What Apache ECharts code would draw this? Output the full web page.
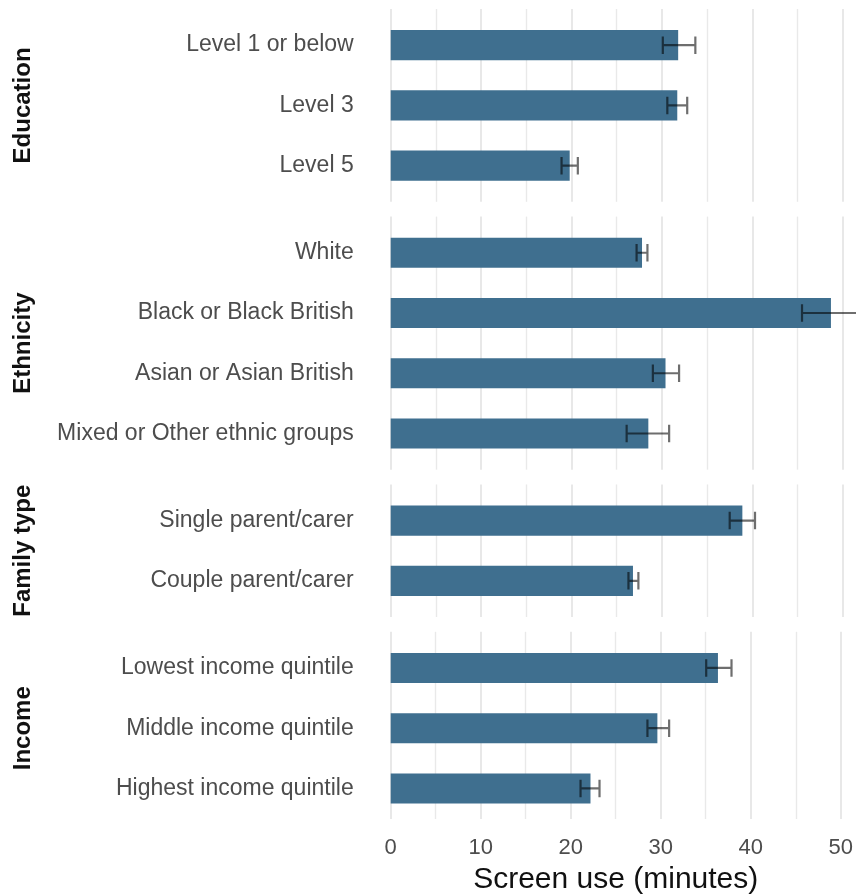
<!DOCTYPE html>
<html><head><meta charset="utf-8">
<script src="https://cdn.jsdelivr.net/npm/echarts@6/dist/echarts.min.js"></script>
<style>html,body{margin:0;padding:0;background:#fff}#c{width:856px;height:896px}</style>
</head><body><div id="c"></div>
<script>
// ---- data ----
const facetNames = ['Education', 'Ethnicity', 'Family type', 'Income'];
const eduCats = ['Level 1 or below', 'Level 3', 'Level 5'];
const eduVals = [31.8, 31.7, 19.8];
const eduLow  = [30.1, 30.6, 18.9];
const eduHigh = [33.7, 32.8, 20.7];
const ethCats = ['White', 'Black or Black British', 'Asian or Asian British', 'Mixed or Other ethnic groups'];
const ethVals = [27.8, 48.7, 30.4, 28.5];
const ethLow  = [27.2, 45.5, 29.0, 26.1];
const ethHigh = [28.4, 51.9, 31.9, 30.8];
const famCats = ['Single parent/carer', 'Couple parent/carer'];
const famVals = [38.9, 26.8];
const famLow  = [37.5, 26.3];
const famHigh = [40.3, 27.4];
const incCats = ['Lowest income quintile', 'Middle income quintile', 'Highest income quintile'];
const incVals = [36.2, 29.5, 22.1];
const incLow  = [34.9, 28.4, 21.0];
const incHigh = [37.7, 30.8, 23.1];
const xTicks = [0, 10, 20, 30, 40, 50];
const xTitle = 'Screen use (minutes)';

const facets = [
  {name: facetNames[0], cats: eduCats, vals: eduVals, lo: eduLow, hi: eduHigh},
  {name: facetNames[1], cats: ethCats, vals: ethVals, lo: ethLow, hi: ethHigh},
  {name: facetNames[2], cats: famCats, vals: famVals, lo: famLow, hi: famHigh},
  {name: facetNames[3], cats: incCats, vals: incVals, lo: incLow, hi: incHigh}
];

// ---- layout ----
const U = 60.25, GAP = 14.8, TOP0 = 9, LEFT = 390.7, RIGHT = 13.3;
const FONT = "'Liberation Sans', Arial, sans-serif";
const BAR = '#3f6f8f';
const ERR = 'rgba(0,0,0,0.57)';

const grids = [], xAxes = [], yAxes = [], series = [], graphics = [];
let curTop = TOP0;
facets.forEach((f, i) => {
  const n = f.cats.length;
  const h = (n + 0.2) * U;
  const last = i === facets.length - 1;
  // outer grid (panel with grid lines)
  grids.push({left: LEFT, right: RIGHT, top: curTop, height: h});
  const og = grids.length - 1;
  xAxes.push({
    gridIndex: og, type: 'value', min: 0, max: 50, interval: 10,
    axisLine: {show: false}, axisTick: {show: false},
    axisLabel: {show: last, fontSize: 22, color: '#4d4d4d', fontFamily: FONT, margin: 18,
      formatter: v => xTicks.indexOf(v) >= 0 ? String(v) : ''},
    splitLine: {show: true, lineStyle: {color: '#e3e3e3', width: 1.6}},
    minorTick: {show: false, splitNumber: 2},
    minorSplitLine: {show: true, lineStyle: {color: '#e9e9e9', width: 1.4}},
    name: last ? xTitle : '', nameLocation: 'middle', nameGap: 46,
    nameTextStyle: {fontSize: 30, color: '#111', fontFamily: FONT}
  });
  yAxes.push({gridIndex: og, type: 'value', min: 0, max: 1, show: false});
  // inner grid (categories)
  grids.push({left: LEFT, right: RIGHT, top: curTop + 0.1 * U, height: n * U});
  const ig = grids.length - 1;
  xAxes.push({gridIndex: ig, type: 'value', min: 0, max: 50, show: false});
  yAxes.push({
    gridIndex: ig, type: 'category', data: f.cats, inverse: true,
    axisLine: {show: false}, axisTick: {show: false}, splitLine: {show: false},
    axisLabel: {fontSize: 23, color: '#4d4d4d', fontFamily: FONT, margin: 37, padding: [6, 0, 0, 0]}
  });
  series.push({
    type: 'bar', xAxisIndex: ig, yAxisIndex: ig, data: f.vals, barWidth: '50%',
    itemStyle: {color: BAR}, silent: true, animation: false, z: 2
  });
  const errData = f.cats.map((c, k) => [k, f.lo[k], f.hi[k]]);
  series.push({
    type: 'custom', xAxisIndex: ig, yAxisIndex: ig, data: errData, clip: false,
    silent: true, animation: false, z: 10,
    renderItem: (params, api) => {
      const cat = api.value(0);
      const p1 = api.coord([api.value(1), cat]);
      const p2 = api.coord([api.value(2), cat]);
      const hw = api.size([0, 1])[1] * 0.145;
      const d = `M${p1[0]} ${p1[1] - hw} L${p1[0]} ${p1[1] + hw} M${p1[0]} ${p1[1]} L${p2[0]} ${p2[1]} M${p2[0]} ${p2[1] - hw} L${p2[0]} ${p2[1] + hw}`;
      return {type: 'path', shape: {pathData: d}, style: {stroke: ERR, lineWidth: 2.2, fill: null}};
    }
  });
  graphics.push({
    type: 'text', x: 23, y: curTop + h / 2, rotation: Math.PI / 2,
    style: {text: f.name, fontSize: 24, fontWeight: 'bold', fill: '#111', fontFamily: FONT,
      align: 'center', verticalAlign: 'middle'}
  });
  curTop += h + GAP;
});

const chart = echarts.init(document.getElementById('c'), null, {renderer: 'canvas'});
chart.setOption({
  animation: false,
  backgroundColor: '#ffffff',
  grid: grids, xAxis: xAxes, yAxis: yAxes, series: series, graphic: graphics
});
</script>
</body></html>
